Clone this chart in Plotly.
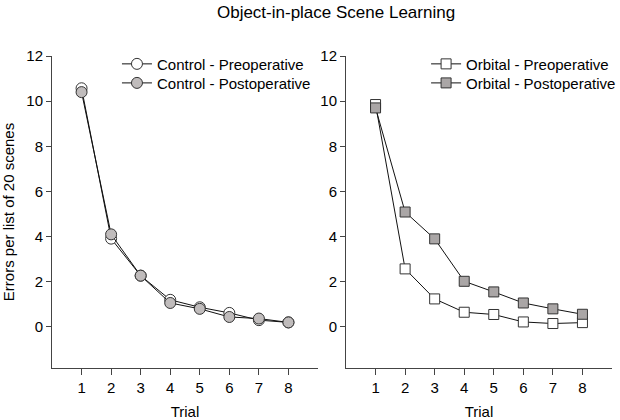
import plotly.graph_objects as go

trials = [1, 2, 3, 4, 5, 6, 7, 8]
control_pre = [10.57, 3.91, 2.27, 1.2, 0.87, 0.62, 0.3, 0.2]
control_post = [10.4, 4.1, 2.27, 1.06, 0.8, 0.44, 0.37, 0.2]
orbital_pre = [9.85, 2.57, 1.24, 0.65, 0.55, 0.22, 0.15, 0.19]
orbital_post = [9.7, 5.09, 3.9, 2.02, 1.55, 1.06, 0.8, 0.56]
y_ticks = [0, 2, 4, 6, 8, 10, 12]

FONT = "Liberation Sans, Arial, sans-serif"
AX = "#444444"

fig = go.Figure()

def add(x, y, name, symbol, fill, xa, ya, legend, size):
    fig.add_trace(go.Scatter(
        x=x, y=y, name=name, mode="lines+markers",
        line=dict(color="#111111", width=1),
        marker=dict(symbol=symbol, size=size, color=fill,
                    line=dict(color="#333333", width=1)),
        xaxis=xa, yaxis=ya, legend=legend))

add(trials, control_pre, "Control - Preoperative", "circle", "white", "x", "y", "legend", 11)
add(trials, control_post, "Control - Postoperative", "circle", "#c0bcbc", "x", "y", "legend2", 11)
add(trials, orbital_pre, "Orbital - Preoperative", "square", "white", "x2", "y2", "legend3", 10)
add(trials, orbital_post, "Orbital - Postoperative", "square", "#aaa6a6", "x2", "y2", "legend4", 10)

xcommon = dict(range=[0, 9], tickvals=trials, ticks="outside", ticklen=6,
               tickcolor=AX, showline=True, linecolor=AX, linewidth=1,
               showgrid=False, zeroline=False, automargin=False,
               tickfont=dict(size=15, color="black"),
               title=dict(text="Trial", font=dict(size=15, color="black"), standoff=12))
ycommon = dict(range=[-1.82, 12], tickvals=y_ticks, ticks="outside", ticklen=5,
               tickcolor=AX, showline=True, linecolor=AX, linewidth=1,
               showgrid=False, zeroline=False, automargin=False,
               tickfont=dict(size=15, color="black"))

def leg(x, y):
    return dict(x=x, y=y, xanchor="left", yanchor="middle", bgcolor="rgba(0,0,0,0)",
                font=dict(size=15, color="black"), itemwidth=30)

fig.update_layout(
    width=620, height=420,
    margin=dict(l=52, r=8, t=56, b=52, autoexpand=False),
    paper_bgcolor="white", plot_bgcolor="white",
    font=dict(family=FONT, color="black"),
    title=dict(text="Object-in-place Scene Learning", xref="container", x=0.542,
               xanchor="center", yref="container", y=0.972, yanchor="middle",
               font=dict(size=17, color="black")),
    xaxis=dict(domain=[0, 0.475], anchor="y", **xcommon),
    yaxis=dict(domain=[0, 1], anchor="x",
               title=dict(text="Errors per list of 20 scenes",
                          font=dict(size=15, color="black"), standoff=8),
               **ycommon),
    xaxis2=dict(domain=[0.525, 1], anchor="y2", **xcommon),
    yaxis2=dict(domain=[0, 1], anchor="x2", **ycommon),
    legend=leg(0.116, 0.974),
    legend2=leg(0.116, 0.913),
    legend3=leg(0.668, 0.974),
    legend4=leg(0.668, 0.913),
    showlegend=True,
)

fig.write_html("out.html", config={"displayModeBar": False},
               post_script="document.body.style.margin='0';document.body.style.overflow='hidden';")
